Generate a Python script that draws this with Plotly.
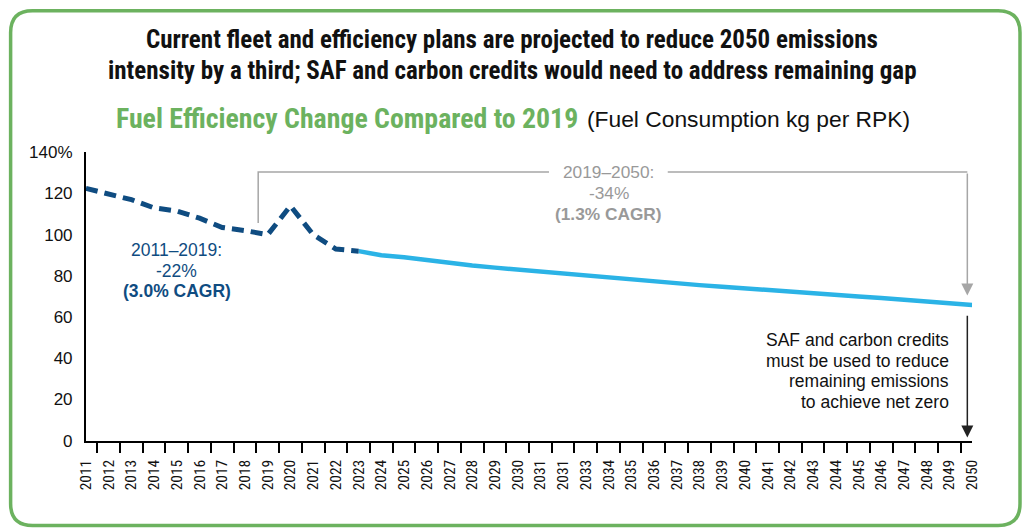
import plotly.graph_objects as go

# ---------------- data ----------------
hist_years = [2011, 2012, 2013, 2014, 2015, 2016, 2017, 2018, 2019, 2020, 2021, 2022, 2023]
hist_values = [122.5, 119.5, 117, 113, 111.5, 108, 103.5, 102, 100, 114, 100, 93, 92]

proj_years = list(range(2023, 2051))
proj_values = [92, 90, 89, 87.5, 86.3, 85, 84, 83, 82, 81, 80, 79, 78, 77, 76.3, 75.5,
               74.7, 74, 73.2, 72.4, 71.6, 70.8, 70, 69.2, 68.4, 67.6, 66.7, 65.8]

tick_years = list(range(2011, 2051))
tick_labels = ["2011", "2012", "2013", "2014", "2015", "2016", "2017", "2018", "2019", "2020",
               "2021", "2022", "2023", "2024", "2025", "2026", "2027", "2028", "2029", "2030",
               "2031", "2031", "2033", "2034", "2035", "2036", "2037", "2038", "2039", "2040",
               "2041", "2042", "2043", "2044", "2045", "2046", "2047", "2048", "2049", "2050"]
y_ticks = [0, 20, 40, 60, 80, 100, 120, 140]
y_labels = ["0", "20", "40", "60", "80", "100", "120", "140%"]

hist_note = ["2011–2019:", "-22%", "<b>(3.0% CAGR)</b>"]
proj_note = ["2019–2050:", "-34%", "<b>(1.3% CAGR)</b>"]
saf_note = ["SAF and carbon credits", "must be used to reduce", "remaining emissions", "to achieve net zero"]

# Page geometry: the page body keeps an 8px margin and the capture is scaled
# from 1040x547 to 1024x531; positions below are given in final-picture pixels.
OFF = 8
SX, SY = 1040 / 1024, 547 / 531
FW, FH = 1032, 539
COND = "Roboto Condensed, Liberation Sans Narrow, DejaVu Sans Condensed, Arial Narrow, sans-serif"
REG = "Liberation Sans, Arial, Helvetica, sans-serif"
GREEN = "#6cb25f"
DARK = "#0f4c81"
LIGHT = "#2bb3e6"
GREY = "#a6a6a6"

def px(s):
    return (s * SX - OFF) / FW

def py(s):
    return 1 - (s * SY - OFF) / FH

X0S, X1S = 85, 973  # axis span in picture pixels

def year_at(s):
    return 2011 + (s - X0S) * 39 / (X1S - X0S)

fig = go.Figure()
fig.add_trace(go.Scatter(x=proj_years, y=proj_values, mode="lines",
                         line=dict(color=LIGHT, width=4.5), cliponaxis=False,
                         hoverinfo="skip"))
fig.add_trace(go.Scatter(x=hist_years, y=hist_values, mode="lines",
                         line=dict(color=DARK, width=5, dash="12px,7px"), cliponaxis=False,
                         hoverinfo="skip"))

# rounded border (figure can't reach the very edge of the picture)
bx0, by0, bx1, by1, r = 9.5, 9.5, 1021, 527.5, 22
pts = [
    f"M {px(bx0 + r)},{py(by0)}", f"L {px(bx1 - r)},{py(by0)}",
    f"Q {px(bx1)},{py(by0)} {px(bx1)},{py(by0 + r)}", f"L {px(bx1)},{py(by1 - r)}",
    f"Q {px(bx1)},{py(by1)} {px(bx1 - r)},{py(by1)}", f"L {px(bx0 + r)},{py(by1)}",
    f"Q {px(bx0)},{py(by1)} {px(bx0)},{py(by1 - r)}", f"L {px(bx0)},{py(by0 + r)}",
    f"Q {px(bx0)},{py(by0)} {px(bx0 + r)},{py(by0)}", "Z",
]
gap_l, gap_r = year_at(549), year_at(668)
shapes = [
    dict(type="path", xref="paper", yref="paper", path=" ".join(pts),
         line=dict(color=GREEN, width=3.5)),
    # grey bracket (with a gap for its label)
    dict(type="path", xref="x", yref="y",
         path=f"M 2018.58,105.7 L 2018.58,130.5 L {gap_l},130.5",
         line=dict(color=GREY, width=1.5)),
    dict(type="line", xref="x", yref="y", x0=gap_r, x1=2049.79, y0=130.5, y1=130.5,
         line=dict(color=GREY, width=1.5)),
]

annotations = [
    dict(xref="paper", yref="paper", x=px(512), y=py(38), text="<b>Current fleet and efficiency plans are projected to reduce 2050 emissions</b>",
         showarrow=False, font=dict(family=COND, size=25, color="#111"), xanchor="center", yanchor="middle"),
    dict(xref="paper", yref="paper", x=px(512), y=py(70), text="<b>intensity by a third; SAF and carbon credits would need to address remaining gap</b>",
         showarrow=False, font=dict(family=COND, size=25, color="#111"), xanchor="center", yanchor="middle"),
    dict(xref="paper", yref="paper", x=px(580), y=py(118), text="<b>Fuel Efficiency Change Compared to 2019</b>",
         showarrow=False, font=dict(family=COND, size=27.8, color=GREEN), xanchor="right", yanchor="middle"),
    dict(xref="paper", yref="paper", x=px(585), y=py(118), text="(Fuel Consumption kg per RPK)",
         showarrow=False, font=dict(family=REG, size=22.8, color="#111"), xanchor="left", yanchor="middle"),
    # grey arrow
    dict(x=2049.79, y=70.5, ax=2049.79, ay=130.5, xref="x", yref="y", axref="x", ayref="y",
         text="", showarrow=True, arrowhead=2, arrowsize=1.6, arrowwidth=1.5, arrowcolor=GREY),
    # black arrow
    dict(x=2049.79, y=1.5, ax=2049.79, ay=61.3, xref="x", yref="y", axref="x", ayref="y",
         text="", showarrow=True, arrowhead=2, arrowsize=1.6, arrowwidth=1.5, arrowcolor="#222"),
]

for i, t in enumerate(hist_note):
    annotations.append(dict(xref="paper", yref="paper", x=px(176), y=py(250 + i * 21), text=t,
                            showarrow=False, font=dict(family=REG, size=17.5, color=DARK),
                            xanchor="center", yanchor="middle"))
for i, t in enumerate(proj_note):
    annotations.append(dict(xref="paper", yref="paper", x=px(609), y=py(172 + i * 20.8), text=t,
                            showarrow=False, font=dict(family=REG, size=17.3, color="#999999"),
                            xanchor="center", yanchor="middle"))
for i, t in enumerate(saf_note):
    annotations.append(dict(xref="paper", yref="paper", x=px(952), y=py(341 + i * 20.7), text=t,
                            showarrow=False, font=dict(family=REG, size=17.5, color="#111"),
                            xanchor="right", yanchor="middle"))

fig.update_layout(
    width=FW, height=FH, margin=dict(l=0, r=0, t=0, b=0),
    paper_bgcolor="white", plot_bgcolor="white", showlegend=False,
    shapes=shapes, annotations=annotations,
    xaxis=dict(domain=[px(X0S), px(X1S)], range=[2011, 2050], showgrid=False, zeroline=False,
               showline=True, linecolor="black", linewidth=2,
               tickmode="array", tickvals=tick_years, ticktext=tick_labels, tickangle=-90,
               ticks="outside", ticklen=11, tickcolor="rgba(0,0,0,0)",
               tickfont=dict(family=COND, size=15.5, color="#111"),
               minor=dict(tickmode="array", tickvals=[y + 0.5 for y in tick_years[:-1]],
                          ticks="outside", ticklen=10, tickcolor="black", tickwidth=1.5)),
    yaxis=dict(domain=[py(442), py(152)], range=[0, 140], showgrid=False, zeroline=False,
               showline=True, linecolor="black", linewidth=2,
               tickmode="array", tickvals=y_ticks, ticktext=y_labels,
               ticks="outside", ticklen=8, tickcolor="rgba(0,0,0,0)",
               tickfont=dict(family=REG, size=17, color="#111")),
)

fig.write_html("out.html")
